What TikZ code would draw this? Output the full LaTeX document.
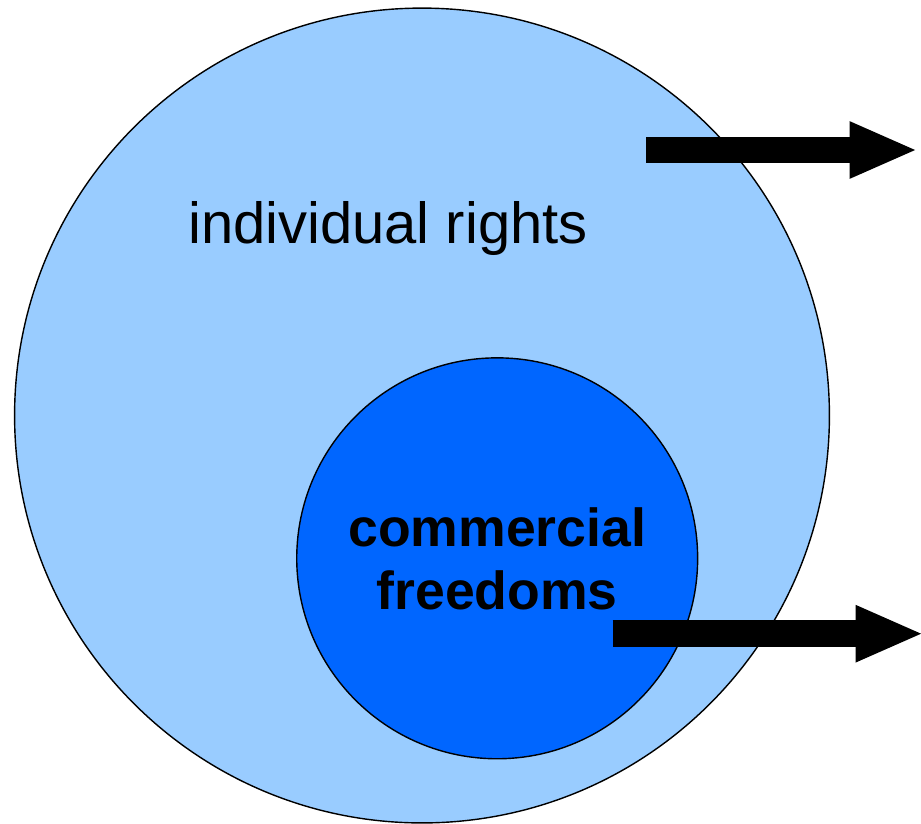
\documentclass[tikz,border=0pt]{standalone}
\usepackage{fontspec}
\setmainfont{Liberation Sans}
\usetikzlibrary{arrows.meta}

\definecolor{paleblue}{HTML}{99CCFF}
\definecolor{deepblue}{HTML}{0066FF}

\begin{document}
\begin{tikzpicture}[x=0.02cm,y=-0.02cm,
  rond/.style={circle,draw=black,line width=0.8pt,inner sep=0pt},
  fleche/.style={line width=0.532cm,-{Triangle[length=1.37cm,width=1.04cm]}}]
   \useasboundingbox (0,0) rectangle (921,823);
   % les deux disques
   \node[rond,fill=paleblue,minimum size=16.30cm] (droits) at (422,415.5) {};
   \node[rond,fill=deepblue,minimum size=8.02cm] (commerce) at (497.2,558.3) {};
   \node[anchor=base,inner sep=0pt,font=\fontsize{33}{38}\selectfont] (lbldroits) at (388,243.3) {individual rights};
   \node[anchor=base,inner sep=0pt,align=center,font=\fontsize{30.5}{35.6}\selectfont\bfseries] (lblcommerce) at (497.2,609.3) {commercial\\freedoms};
   % les fleches
   \coordinate (haut) at (918,150);
   \coordinate (bas) at (924,633.7);
   \draw[fleche] (646,150) -- (haut);
   \draw[fleche] (612.7,633.7) -- (bas);
\end{tikzpicture}
\end{document}
